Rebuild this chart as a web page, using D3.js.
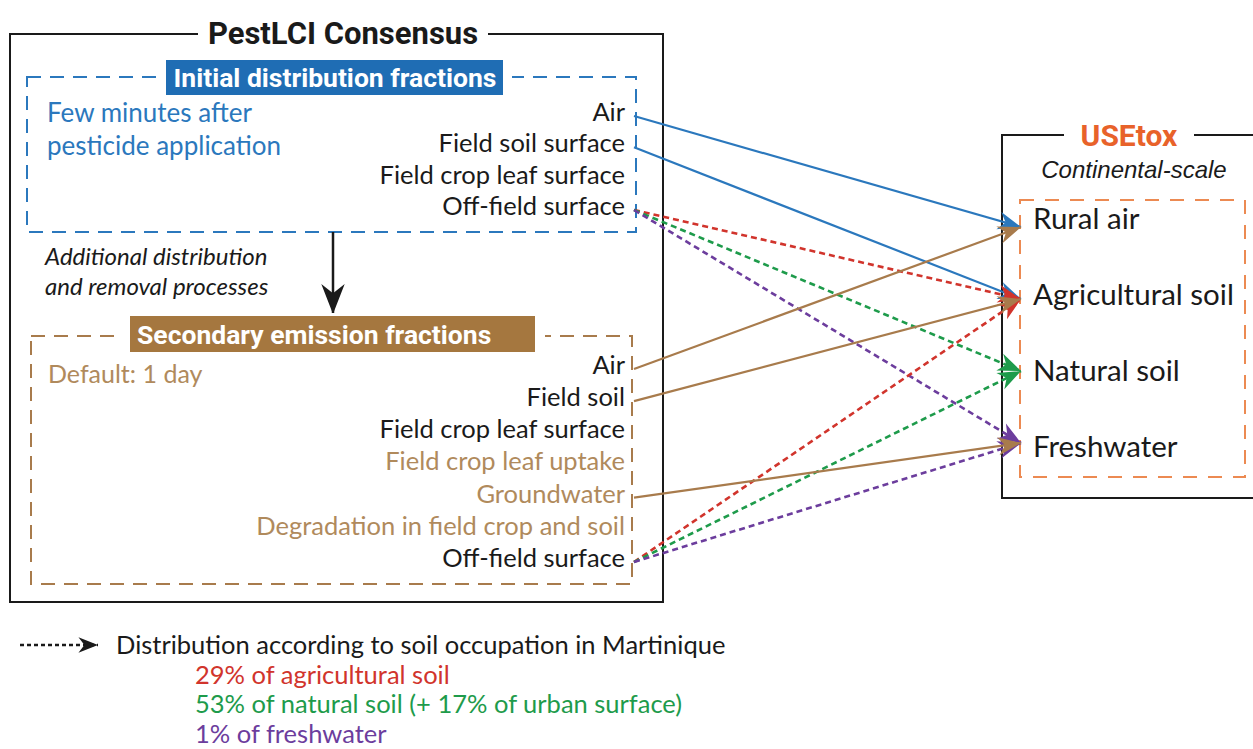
<!DOCTYPE html>
<html>
<head>
<meta charset="utf-8">
<script src="https://cdn.jsdelivr.net/npm/d3@7"></script>
<style>
  body { margin: 0; background: #fff; }
  text { font-family: Lato, "Open Sans", sans-serif; }
</style>
</head>
<body>
<script>
const width = 1253;
const height = 749;

// compartments listed in each model box
const initialLabels = ["Air", "Field soil surface", "Field crop leaf surface", "Off-field surface"];
const secondaryLabels = ["Air", "Field soil", "Field crop leaf surface", "Field crop leaf uptake",
    "Groundwater", "Degradation in field crop and soil", "Off-field surface"];
const secondaryTone = ["dark", "dark", "dark", "brown", "brown", "brown", "dark"];
const compartments = ["Rural air", "Agricultural soil", "Natural soil", "Freshwater"];

// [from, to, colour key]
const initialFlows = [
    ["Air", "Rural air", "blue"],
    ["Field soil surface", "Agricultural soil", "blue"],
    ["Off-field surface", "Agricultural soil", "red"],
    ["Off-field surface", "Natural soil", "green"],
    ["Off-field surface", "Freshwater", "purple"]
];
const secondaryFlows = [
    ["Off-field surface", "Agricultural soil", "red"],
    ["Off-field surface", "Natural soil", "green"],
    ["Off-field surface", "Freshwater", "purple"],
    ["Air", "Rural air", "brown"],
    ["Field soil", "Agricultural soil", "brown"],
    ["Groundwater", "Freshwater", "brown"]
];

const legendTitle = "Distribution according to soil occupation in Martinique";
const legendLines = ["29% of agricultural soil", "53% of natural soil (+ 17% of urban surface)", "1% of freshwater"];
const legendKeys = ["red", "green", "purple"];

const colors = {
    blue: "#2b78bd",
    brown: "#a87b4c",
    red: "#d1342c",
    green: "#1e9b4b",
    purple: "#6c3d9d",
    black: "#1a1a1a"
};
const dotted = new Set(["red", "green", "purple"]);

const svg = d3.select("body").append("svg")
    .attr("width", width)
    .attr("height", height)
    .attr("viewBox", `0 0 ${width} ${height}`);

// arrow heads
const defs = svg.append("defs");
function addMarker(id, c, s) {
    defs.append("marker")
        .attr("id", id)
        .attr("viewBox", "-24 -11 26 22")
        .attr("refX", 0)
        .attr("refY", 0)
        .attr("markerUnits", "userSpaceOnUse")
        .attr("markerWidth", 26 * s)
        .attr("markerHeight", 22 * s)
        .attr("orient", "auto")
        .append("path")
        .attr("d", "M0,0 L-23,-9 L-16,0 L-23,9 Z")
        .attr("fill", c);
}
Object.entries(colors).forEach(([k, c]) => addMarker("arrow-" + k, c, 1));
addMarker("arrow-down", colors.black, 1.3);
addMarker("arrow-legend", colors.black, 0.85);

// scales for the label positions
const yInitial = d3.scalePoint().domain(initialLabels).range([112, 206]);
const ySecondary = d3.scalePoint().domain(secondaryLabels).range([365, 558]);
const yComp = d3.scalePoint().domain(compartments).range([219, 447]);
const yTip = d3.scalePoint().domain(compartments).range([227, 443]);
const yLegend = d3.scalePoint().domain([legendTitle, ...legendLines]).range([645, 734]);

const labelRight = 625;
const lineStart = 634;
const tipX = 1021;

// ---- PestLCI outer box
svg.append("rect")
    .attr("x", 10).attr("y", 34)
    .attr("width", 653).attr("height", 568)
    .attr("fill", "none").attr("stroke", colors.black).attr("stroke-width", 2);
svg.append("rect").attr("x", 198).attr("y", 16).attr("width", 290).attr("height", 34).attr("fill", "#fff");
svg.append("text")
    .attr("x", 343).attr("y", 44)
    .attr("text-anchor", "middle")
    .style("font-family", "Roboto")
    .style("font-weight", 700)
    .style("font-size", "31px")
    .attr("fill", colors.black)
    .text("PestLCI Consensus");

// ---- initial distribution box
svg.append("rect")
    .attr("x", 27).attr("y", 77)
    .attr("width", 609).attr("height", 155)
    .attr("fill", "none").attr("stroke", colors.blue).attr("stroke-width", 2)
    .attr("stroke-dasharray", "14,9");
svg.append("rect").attr("x", 157).attr("y", 58).attr("width", 355).attr("height", 38).attr("fill", "#fff");
svg.append("rect").attr("x", 166).attr("y", 60).attr("width", 337).attr("height", 35).attr("fill", "#1f6db4");
svg.append("text")
    .attr("x", 335).attr("y", 87)
    .attr("text-anchor", "middle")
    .style("font-family", "Roboto")
    .style("font-weight", 700)
    .style("font-size", "26.5px")
    .attr("fill", "#fff")
    .text("Initial distribution fractions");

svg.append("g").selectAll("text")
    .data(["Few minutes after", "pesticide application"])
    .join("text")
    .attr("x", 47)
    .attr("y", (d, i) => 113 + i * 33)
    .attr("dy", "0.35em")
    .style("font-size", "26px")
    .attr("fill", colors.blue)
    .text(d => d);

svg.append("g").selectAll("text")
    .data(initialLabels)
    .join("text")
    .attr("x", labelRight)
    .attr("y", d => yInitial(d))
    .attr("dy", "0.35em")
    .attr("text-anchor", "end")
    .style("font-size", "25.5px")
    .attr("fill", colors.black)
    .text(d => d);

// ---- down arrow between boxes
svg.append("line")
    .attr("x1", 333).attr("y1", 232).attr("x2", 333).attr("y2", 314)
    .attr("stroke", colors.black).attr("stroke-width", 2.5)
    .attr("marker-end", "url(#arrow-down)");
svg.append("g").selectAll("text")
    .data(["Additional distribution", "and removal processes"])
    .join("text")
    .attr("x", 45)
    .attr("y", (d, i) => 257 + i * 30)
    .attr("dy", "0.35em")
    .style("font-size", "24px")
    .style("font-style", "italic")
    .attr("fill", colors.black)
    .text(d => d);

// ---- secondary emission box
svg.append("rect")
    .attr("x", 31).attr("y", 336)
    .attr("width", 601).attr("height", 248)
    .attr("fill", "none").attr("stroke", colors.brown).attr("stroke-width", 2)
    .attr("stroke-dasharray", "14,9");
svg.append("rect").attr("x", 121).attr("y", 313).attr("width", 424).attr("height", 42).attr("fill", "#fff");
svg.append("rect").attr("x", 130).attr("y", 316).attr("width", 405).attr("height", 36).attr("fill", "#a5773f");
svg.append("text")
    .attr("x", 137).attr("y", 344)
    .style("font-family", "Roboto")
    .style("font-weight", 700)
    .style("font-size", "26.5px")
    .attr("fill", "#fff")
    .text("Secondary emission fractions");

svg.append("text")
    .attr("x", 48).attr("y", 374)
    .attr("dy", "0.35em")
    .style("font-size", "25px")
    .attr("fill", "#b08a5c")
    .text("Default: 1 day");

svg.append("g").selectAll("text")
    .data(secondaryLabels)
    .join("text")
    .attr("x", labelRight)
    .attr("y", d => ySecondary(d))
    .attr("dy", "0.35em")
    .attr("text-anchor", "end")
    .style("font-size", "25.5px")
    .attr("fill", (d, i) => secondaryTone[i] === "brown" ? "#b08a5c" : colors.black)
    .text(d => d);

// ---- USEtox box
svg.append("rect")
    .attr("x", 1002).attr("y", 135)
    .attr("width", 270).attr("height", 363)
    .attr("fill", "none").attr("stroke", colors.black).attr("stroke-width", 2);
svg.append("rect").attr("x", 1064).attr("y", 116).attr("width", 130).attr("height", 36).attr("fill", "#fff");
svg.append("text")
    .attr("x", 1129).attr("y", 146)
    .attr("text-anchor", "middle")
    .style("font-family", "Roboto")
    .style("font-weight", 700)
    .style("font-size", "30px")
    .attr("fill", "#e8622a")
    .text("USEtox");
svg.append("text")
    .attr("x", 1134).attr("y", 178)
    .attr("text-anchor", "middle")
    .style("font-family", "Liberation Sans")
    .style("font-style", "italic")
    .style("font-size", "24px")
    .attr("fill", colors.black)
    .text("Continental-scale");
svg.append("rect")
    .attr("x", 1020).attr("y", 200)
    .attr("width", 225).attr("height", 277)
    .attr("fill", "none").attr("stroke", "#ec8a52").attr("stroke-width", 2)
    .attr("stroke-dasharray", "14,11");
svg.append("g").selectAll("text")
    .data(compartments)
    .join("text")
    .attr("x", 1033)
    .attr("y", d => yComp(d))
    .attr("dy", "0.35em")
    .style("font-size", "29.5px")
    .attr("fill", colors.black)
    .text(d => d);

// ---- flows
function drawFlows(flows, yFrom) {
    svg.append("g").selectAll("line")
        .data(flows)
        .join("line")
        .attr("x1", lineStart)
        .attr("y1", d => yFrom(d[0]) + 4)
        .attr("x2", tipX)
        .attr("y2", d => yTip(d[1]))
        .attr("stroke", d => colors[d[2]])
        .attr("stroke-width", d => dotted.has(d[2]) ? 2.6 : 2.2)
        .attr("stroke-dasharray", d => dotted.has(d[2]) ? "6,4" : null)
        .attr("marker-end", d => `url(#arrow-${d[2]})`);
}
drawFlows(initialFlows, yInitial);
drawFlows(secondaryFlows, ySecondary);

// ---- legend
svg.append("line")
    .attr("x1", 20).attr("y1", yLegend(legendTitle)).attr("x2", 98).attr("y2", yLegend(legendTitle))
    .attr("stroke", colors.black).attr("stroke-width", 2.4)
    .attr("stroke-dasharray", "4,3")
    .attr("marker-end", "url(#arrow-legend)");
svg.append("text")
    .attr("x", 116).attr("y", yLegend(legendTitle))
    .attr("dy", "0.35em")
    .style("font-size", "25.5px")
    .attr("fill", colors.black)
    .text(legendTitle);
svg.append("g").selectAll("text")
    .data(legendLines)
    .join("text")
    .attr("x", 195)
    .attr("y", d => yLegend(d))
    .attr("dy", "0.35em")
    .style("font-size", "25.5px")
    .attr("fill", (d, i) => colors[legendKeys[i]])
    .text(d => d);
</script>
</body>
</html>
